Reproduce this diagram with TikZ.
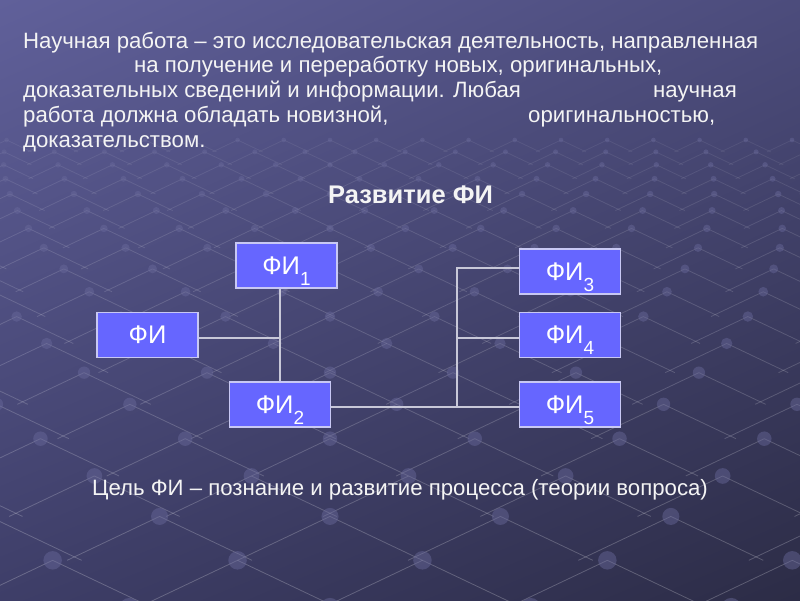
\documentclass[tikz,border=0pt]{standalone}
\usepackage{fontspec}
\setmainfont{Liberation Sans}
\usetikzlibrary{shadings}
\definecolor{bgUL}{HTML}{60609A}
\definecolor{bgUR}{HTML}{4C4C7C}
\definecolor{bgLL}{HTML}{3E3E68}
\definecolor{bgLR}{HTML}{2C2C46}
\definecolor{textcol}{HTML}{F4F4F4}
\definecolor{boxfill}{HTML}{6666FF}
\definecolor{boxedge}{HTML}{C8C8F4}
\definecolor{linkcol}{HTML}{C8C8D8}
\definecolor{dotcol}{HTML}{6A6A9C}
\newcommand{\subn}[1]{\smash{\raisebox{-11pt}{\fontsize{19}{22}\selectfont #1}}}
\begin{document}
\begin{tikzpicture}[x=1pt,y=-1pt,
  fibox/.style={draw=boxedge, fill=boxfill, line width=1.5pt, minimum width=101pt,
    minimum height=45pt, inner sep=0pt, text=white, font=\fontsize{25.5}{30}\selectfont},
  link/.style={draw=linkcol, line width=1.4pt},
  body/.style={text=textcol, font=\fontsize{22.2}{26}\selectfont, inner sep=0pt, anchor=base west},
  gridline/.style={draw=white, line width=0.8pt},
]
\useasboundingbox (0,0) rectangle (800,600);
\shade[upper left=bgUL, upper right=bgUR, lower left=bgLL, lower right=bgLR] (0,0) rectangle (800,600);
% perspective lattice in the background
\begin{scope}
\clip (0,0) rectangle (800,600);
\foreach \k in {0,...,18}{
  \pgfmathsetmacro{\yk}{140*1.085^\k}
  \pgfmathsetmacro{\yn}{140*1.085^(\k+1)}
  \pgfmathsetmacro{\sk}{0.33*\yk}
  \pgfmathsetmacro{\sn}{0.33*\yn}
  \pgfmathsetmacro{\off}{mod(\k,2)/2}
  \pgfmathsetmacro{\op}{0.07+0.009*\k}
  \pgfmathsetmacro{\rr}{0.05*\sk}
  \pgfmathtruncatemacro{\mlo}{-390/\sk-1}
  \pgfmathtruncatemacro{\mhi}{530/\sk+1}
  \foreach \m in {\mlo,...,\mhi}{
    \pgfmathsetmacro{\u}{\m+\off}
    \draw[gridline, draw opacity=\op] (330+\u*\sk,\yk) -- (330+\u*\sk+0.5*\sn,\yn);
    \draw[gridline, draw opacity=\op] (330+\u*\sk,\yk) -- (330+\u*\sk-0.5*\sn,\yn);
    \fill[dotcol, fill opacity=0.45] (330+\u*\sk,\yk) circle[radius=\rr pt];
  }
}
\end{scope}
% text
\node[body] (l1) at (23,48) {Научная работа – это исследовательская деятельность, направленная};
\node[body] (l2) at (134,72.5) {на получение и переработку новых, оригинальных,};
\node[body] (l3) at (23,97) {доказательных сведений и информации. Любая};
\node[body, anchor=base east] (l3b) at (737,97) {научная};
\node[body] (l4) at (23,122) {работа должна обладать новизной,};
\node[body] (l4b) at (528,122) {оригинальностью,};
\node[body] (l5) at (23,147) {доказательством.};
\node[text=textcol, inner sep=0pt, anchor=base, font=\bfseries\fontsize{25.5}{30}\selectfont] (title) at (410.5,203) {Развитие ФИ};
% boxes
\node[fibox] (fi)  at (147.5,335)   {ФИ};
\node[fibox] (fi1) at (286.5,265.5) {ФИ\subn{1}};
\node[fibox] (fi2) at (280,404.5)   {ФИ\subn{2}};
\node[fibox] (fi3) at (570,271.5)   {ФИ\subn{3}};
\node[fibox] (fi4) at (570,335)     {ФИ\subn{4}};
\node[fibox] (fi5) at (570,404.5)   {ФИ\subn{5}};
% connectors
\coordinate (fiE)  at ([yshift=-3pt]fi.east);
\coordinate (fi2E) at ([yshift=-2.5pt]fi2.east);
\coordinate (fi3W) at ([yshift=3.5pt]fi3.west);
\coordinate (fi4W) at ([yshift=-3pt]fi4.west);
\coordinate (jx) at (457,0);
\draw[link] (fi2.north) -- (fi2.north |- fi1.south);
\draw[link] (fiE) -- (fiE -| fi2.north);
\draw[link] (fi2E) -- (fi2E -| fi5.west);
\draw[link] (fi3W) -- (fi3W -| jx) -- (fi2E -| jx);
\draw[link] (fi4W) -- (fi4W -| jx);
% goal
\node[body, anchor=base] (goal) at (400,495) {Цель ФИ – познание и развитие процесса (теории вопроса)};
\end{tikzpicture}
\end{document}
